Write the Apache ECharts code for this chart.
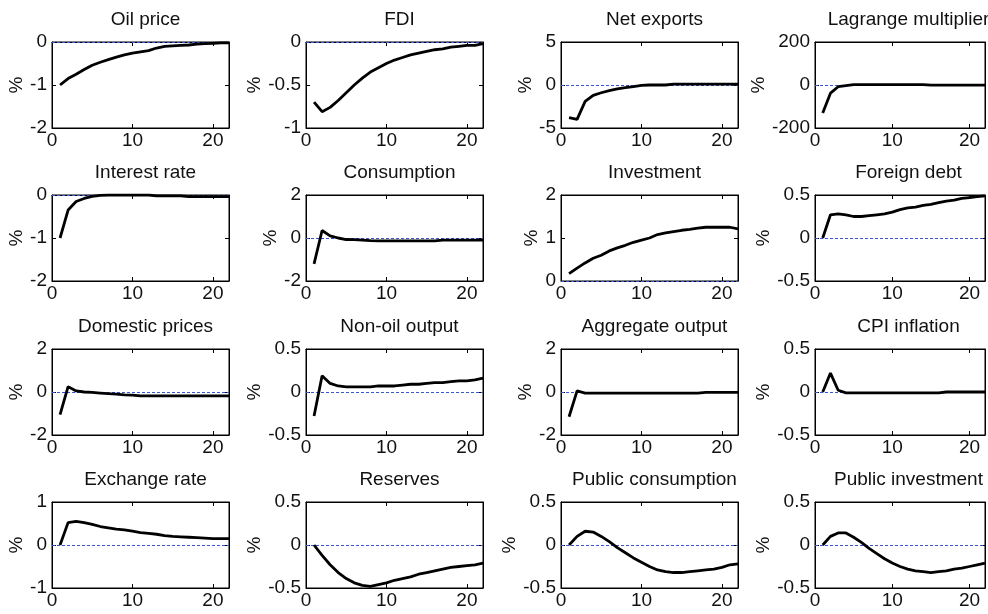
<!DOCTYPE html>
<html>
<head>
<meta charset="utf-8">
<script src="https://cdn.jsdelivr.net/npm/echarts@6/dist/echarts.min.js"></script>
<style>html,body{margin:0;padding:0;background:#fff}#c{width:988px;height:614px}</style>
</head>
<body>
<div id="c"></div>
<script>
var periods = [1,2,3,4,5,6,7,8,9,10,11,12,13,14,15,16,17,18,19,20,21,22];
var xTicks = [0,10,20];
var titles = ["Oil price","FDI","Net exports","Lagrange multiplier","Interest rate","Consumption","Investment","Foreign debt","Domestic prices","Non-oil output","Aggregate output","CPI inflation","Exchange rate","Reserves","Public consumption","Public investment"];
var yMins = [-2,-1,-5,-200,-2,-2,0,-0.5,-2,-0.5,-2,-0.5,-1,-0.5,-0.5,-0.5];
var yMaxs = [0,0,5,200,0,2,2,0.5,2,0.5,2,0.5,1,0.5,0.5,0.5];
var ySteps = [1,0.5,5,200,1,2,1,0.5,2,0.5,2,0.5,1,0.5,0.5,0.5];

var oilPrice = [-1.0,-0.85,-0.75,-0.64,-0.54,-0.47,-0.41,-0.35,-0.30,-0.26,-0.23,-0.20,-0.14,-0.10,-0.09,-0.08,-0.07,-0.05,-0.04,-0.03,-0.02,-0.02];
var fdi = [-0.70,-0.81,-0.76,-0.68,-0.59,-0.50,-0.42,-0.35,-0.30,-0.25,-0.21,-0.18,-0.15,-0.13,-0.11,-0.09,-0.08,-0.06,-0.05,-0.04,-0.04,-0.02];
var netExports = [-3.8,-4.0,-1.9,-1.2,-0.9,-0.65,-0.45,-0.3,-0.2,-0.05,0,0,0,0.1,0.1,0.1,0.1,0.1,0.1,0.1,0.1,0.1];
var lagrange = [-130,-38,-8,-3,2,2,2,2,2,2,2,2,2,2,-1,-1,-1,-1,-1,-1,-1,-1];
var interestRate = [-1.0,-0.35,-0.15,-0.08,-0.03,-0.01,0,0,0,0,0,0,-0.02,-0.02,-0.02,-0.02,-0.04,-0.04,-0.04,-0.04,-0.04,-0.04];
var consumption = [-1.2,0.35,0.1,0,-0.07,-0.08,-0.1,-0.12,-0.13,-0.13,-0.13,-0.13,-0.13,-0.13,-0.13,-0.13,-0.1,-0.1,-0.1,-0.1,-0.1,-0.1];
var investment = [0.17,0.3,0.42,0.53,0.6,0.7,0.77,0.83,0.9,0.95,1.0,1.08,1.12,1.15,1.18,1.2,1.23,1.25,1.25,1.25,1.25,1.21];
var foreignDebt = [0,0.27,0.28,0.27,0.25,0.25,0.26,0.27,0.28,0.3,0.33,0.35,0.36,0.38,0.39,0.41,0.43,0.44,0.46,0.47,0.48,0.49];
var domesticPrices = [-1.05,0.25,0.05,0,-0.02,-0.05,-0.08,-0.1,-0.13,-0.15,-0.18,-0.18,-0.18,-0.18,-0.18,-0.18,-0.18,-0.18,-0.18,-0.18,-0.18,-0.18];
var nonOilOutput = [-0.28,0.19,0.1,0.07,0.06,0.06,0.06,0.06,0.07,0.07,0.07,0.08,0.09,0.09,0.1,0.11,0.11,0.12,0.13,0.13,0.14,0.16];
var aggregateOutput = [-1.15,0.05,-0.05,-0.05,-0.05,-0.05,-0.05,-0.05,-0.05,-0.05,-0.05,-0.05,-0.05,-0.05,-0.05,-0.05,-0.05,-0.02,-0.02,-0.02,-0.02,-0.02];
var cpiInflation = [0,0.22,0.02,-0.01,-0.01,-0.01,-0.01,-0.01,-0.01,-0.01,-0.01,-0.01,-0.01,-0.01,-0.01,-0.01,0,0,0,0,0,0];
var exchangeRate = [0,0.52,0.55,0.52,0.48,0.43,0.4,0.37,0.35,0.32,0.29,0.27,0.25,0.22,0.2,0.19,0.18,0.17,0.16,0.15,0.15,0.15];
var reserves = [0,-0.12,-0.23,-0.32,-0.39,-0.44,-0.47,-0.48,-0.46,-0.44,-0.41,-0.39,-0.37,-0.34,-0.32,-0.3,-0.28,-0.26,-0.25,-0.24,-0.23,-0.21];
var publicConsumption = [0,0.1,0.16,0.15,0.1,0.04,-0.03,-0.09,-0.15,-0.2,-0.25,-0.29,-0.31,-0.32,-0.32,-0.31,-0.3,-0.29,-0.28,-0.26,-0.23,-0.22];
var publicInvestment = [0,0.1,0.14,0.14,0.09,0.03,-0.04,-0.1,-0.16,-0.21,-0.25,-0.28,-0.3,-0.31,-0.32,-0.31,-0.3,-0.28,-0.27,-0.25,-0.23,-0.21];

var seriesData = [oilPrice,fdi,netExports,lagrange,interestRate,consumption,investment,foreignDebt,domesticPrices,nonOilOutput,aggregateOutput,cpiInflation,exchangeRate,reserves,publicConsumption,publicInvestment];

var FONT = "'Liberation Sans', Arial, sans-serif";
var TICK_SIZE = 19;
var lefts = [52, 306, 561, 815];
var tops = [42, 195, 349, 502];
var W = 177, H = 86;

var measurer = document.createElement('canvas').getContext('2d');
measurer.font = TICK_SIZE + 'px ' + FONT;

var grids = [], xAxes = [], yAxes = [], series = [], titleList = [];
function fmtY(v){ return String(Math.round(v*1000)/1000); }
for (var i = 0; i < 16; i++) {
  var r = Math.floor(i/4), c = i % 4;
  grids.push({left: lefts[c], top: tops[r], width: W, height: H, show: true, borderColor: '#000', borderWidth: 1, backgroundColor: 'transparent', containLabel: false});
  titleList.push({text: titles[i], left: lefts[c] + W/2, top: tops[r] - 37, textAlign: 'center',
    textStyle: {fontFamily: FONT, fontSize: 19, fontWeight: 'normal', color: '#111'}});
  var maxW = 0;
  for (var v = yMins[i]; v <= yMaxs[i] + 1e-9; v += ySteps[i]) { maxW = Math.max(maxW, measurer.measureText(fmtY(v)).width); }
  var gap = Math.round(maxW + 9);
  var common = {type: 'value', gridIndex: i, min: 0, max: 22, interval: 10,
    axisLine: {show: true, onZero: false, lineStyle: {color: '#000', width: 1}},
    axisTick: {show: true, inside: true, length: 4, lineStyle: {color: '#000'}},
    splitLine: {show: false}};
  xAxes.push(Object.assign({}, common, {position: 'bottom',
    axisLabel: {show: true, fontFamily: FONT, fontSize: TICK_SIZE, color: '#111', margin: 3,
      formatter: function(v){ return xTicks.indexOf(v) >= 0 ? String(v) : ''; }}}));
  xAxes.push(Object.assign({}, common, {position: 'top', axisLabel: {show: false}}));
  var ycommon = {type: 'value', gridIndex: i, min: yMins[i], max: yMaxs[i], interval: ySteps[i],
    axisLine: {show: true, onZero: false, lineStyle: {color: '#000', width: 1}},
    axisTick: {show: true, inside: true, length: 4, lineStyle: {color: '#000'}},
    splitLine: {show: false}};
  yAxes.push(Object.assign({}, ycommon, {position: 'left', name: '%', nameLocation: 'middle', nameGap: gap, nameRotate: 90,
    nameTextStyle: {fontFamily: FONT, fontSize: 19, color: '#111'},
    axisLabel: {show: true, fontFamily: FONT, fontSize: TICK_SIZE, color: '#111', margin: 5, formatter: fmtY}}));
  yAxes.push(Object.assign({}, ycommon, {position: 'right', axisLabel: {show: false}}));
  var pts = [];
  for (var k = 0; k < periods.length; k++) pts.push([periods[k], seriesData[i][k]]);
  series.push({type: 'line', xAxisIndex: 2*i, yAxisIndex: 2*i, data: pts, symbol: 'none', animation: false,
    lineStyle: {color: '#000', width: 2.8}, z: 3,
    markLine: {silent: true, symbol: 'none', label: {show: false}, animation: false,
      lineStyle: {color: '#3a55c8', type: [3, 2], width: 1}, data: [{yAxis: 0}], z: 2}});
}
var chart = echarts.init(document.getElementById('c'), null, {renderer: 'canvas'});
chart.setOption({backgroundColor: '#fff', animation: false, title: titleList, grid: grids, xAxis: xAxes, yAxis: yAxes, series: series});
</script>
</body>
</html>
